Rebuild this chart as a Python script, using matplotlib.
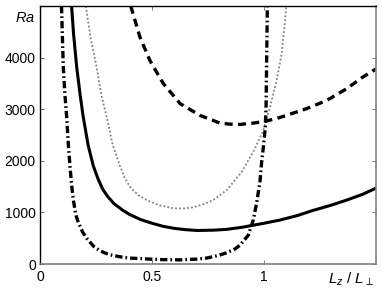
import matplotlib
matplotlib.use("Agg")
import matplotlib.pyplot as plt
import matplotlib.transforms as mtransforms

# values
solid_x = [0.141, 0.150, 0.164, 0.180, 0.193, 0.215, 0.238, 0.26, 0.28, 0.30, 0.33,
           0.37, 0.40, 0.45, 0.50, 0.55, 0.60, 0.65, 0.70, 0.77, 0.83, 0.90, 0.95,
           1.00, 1.07, 1.15, 1.22, 1.30, 1.37, 1.44, 1.50]
solid_y = [5000, 4450, 3810, 3250, 2850, 2300, 1900, 1640, 1450, 1320, 1170,
           1040, 960, 860, 790, 730, 690, 665, 650, 655, 670, 710, 750,
           790, 850, 940, 1040, 1140, 1240, 1350, 1470]

dashed_x = [0.405, 0.446, 0.491, 0.55, 0.625, 0.714, 0.804, 0.85, 0.893, 0.95, 1.00,
            1.056, 1.10, 1.19, 1.28, 1.37, 1.44, 1.50]
dashed_y = [5000, 4400, 3940, 3500, 3110, 2880, 2730, 2710, 2705, 2730, 2760,
            2820, 2880, 3010, 3170, 3400, 3620, 3780]

dotted_x = [0.205, 0.225, 0.253, 0.275, 0.298, 0.325, 0.357, 0.38, 0.405, 0.44,
            0.476, 0.53, 0.595, 0.64, 0.685, 0.73, 0.774, 0.833, 0.90, 0.955,
            0.997, 1.027, 1.056, 1.079, 1.094, 1.10]
dotted_y = [5000, 4400, 3810, 3250, 2850, 2300, 1900, 1650, 1480, 1330,
            1240, 1140, 1080, 1075, 1100, 1160, 1240, 1430, 1780, 2200,
            2590, 3040, 3555, 4077, 4715, 5000]

dashdot_x = [0.096, 0.100, 0.104, 0.111, 0.119, 0.126, 0.134, 0.142, 0.149, 0.16,
             0.17, 0.19, 0.21, 0.24, 0.27, 0.31, 0.357, 0.40, 0.49, 0.55, 0.625,
             0.70, 0.745, 0.80, 0.834, 0.87, 0.893, 0.93, 0.952, 0.967, 0.982,
             0.99, 0.997, 1.005, 1.009, 1.012, 1.015]
dashdot_y = [5000, 4400, 3810, 3300, 2850, 2350, 1880, 1500, 1237, 950,
             820, 620, 490, 340, 250, 180, 140, 115, 95, 85, 80,
             95, 115, 170, 220, 290, 365, 560, 850, 1180, 1600,
             2000, 2260, 2600, 3000, 4000, 5000]

xticks = [0, 0.5, 1]
xtick_labels = ['0', '0.5', '1']
yticks = [0, 1000, 2000, 3000, 4000]
ytick_labels = ['0', '1000', '2000', '3000', '4000']


def main():
    plt.rcParams['font.family'] = ['Liberation Sans', 'DejaVu Sans']
    plt.rcParams['mathtext.fontset'] = 'custom'
    plt.rcParams['mathtext.rm'] = 'Liberation Sans'
    plt.rcParams['mathtext.it'] = 'Liberation Sans:italic'

    fig = plt.figure(figsize=(3.82, 2.91), dpi=100)
    ax = fig.add_axes([40 / 382, 27 / 291, 336 / 382, 258 / 291])

    ax.plot(dotted_x, dotted_y, color='0.5', lw=1.3, ls=(0, (1.0, 1.2)))
    ax.plot(solid_x, solid_y, color='black', lw=2.2, ls='-')
    ax.plot(dashed_x, dashed_y, color='black', lw=2.4, ls=(0, (2.4, 1.6)))
    ax.plot(dashdot_x, dashdot_y, color='black', lw=2.4,
            ls=(0, (2.2, 0.9, 0.5, 0.9)))

    ax.set_xlim(0, 1.5)
    ax.set_ylim(0, 5000)
    ax.set_xticks(xticks)
    ax.set_xticklabels(xtick_labels)
    ax.set_yticks(yticks)
    ax.set_yticklabels(ytick_labels)
    ax.tick_params(direction='in', length=3, width=0.6, labelsize=10,
                   top=True, right=True, pad=3, colors='0.4', labelcolor='black')
    ax.tick_params(axis='x', pad=4)

    for side in ['left', 'top']:
        ax.spines[side].set_color('black')
        ax.spines[side].set_linewidth(1.0)
    for side in ['bottom', 'right']:
        ax.spines[side].set_color('0.5')
        ax.spines[side].set_linewidth(1.2)

    # "Ra" and "Lz / L⊥" placed like tick labels
    ax.text(-0.02, 4770, r'$Ra$', ha='right', va='center', fontsize=10.5)
    trans = mtransforms.blended_transform_factory(ax.transData, ax.transAxes)
    ax.text(1.39, -0.025, r'$L_z\ /\ L_\perp$', transform=trans,
            ha='center', va='top', fontsize=11)

    fig.savefig('out.png', dpi=100)


if __name__ == "__main__":
    main()
